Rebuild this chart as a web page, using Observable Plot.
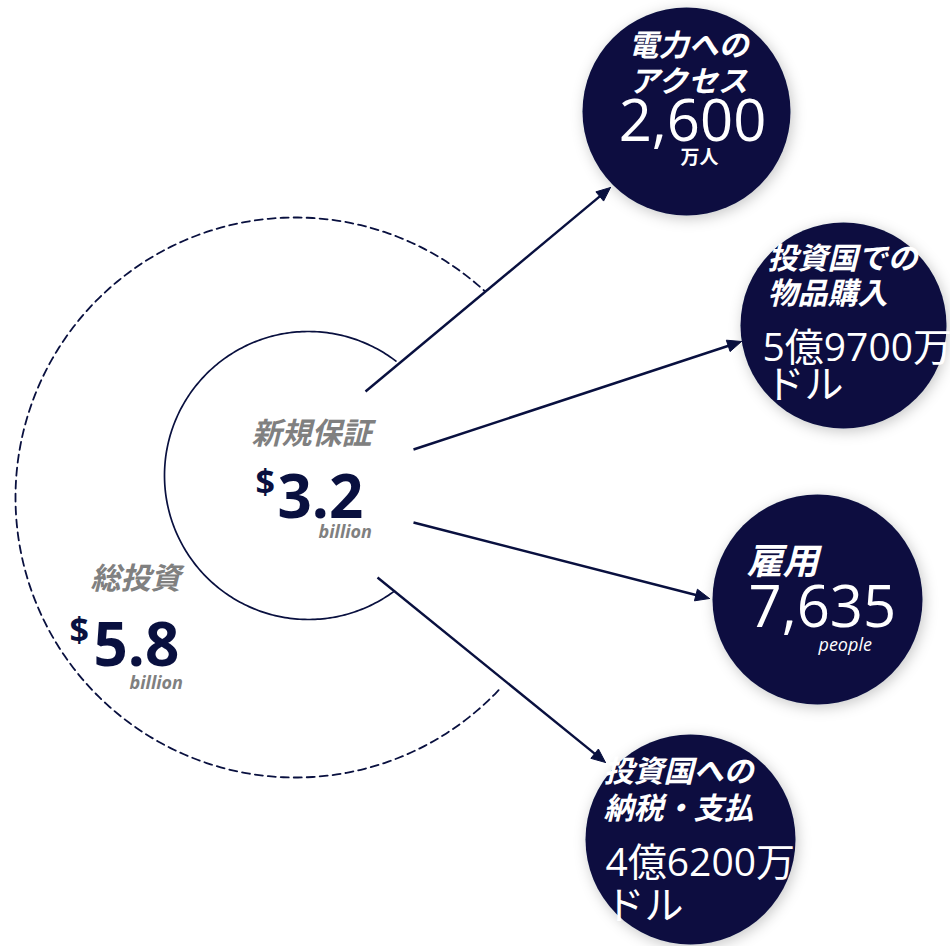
<!DOCTYPE html>
<html>
<head>
<meta charset="utf-8">
<script src="https://cdn.jsdelivr.net/npm/d3@7"></script>
<script src="https://cdn.jsdelivr.net/npm/@observablehq/plot@0.6"></script>
<style>
  html, body { margin: 0; padding: 0; background: #ffffff; }
  #chart svg { display: block; }
</style>
</head>
<body>
<div id="chart"></div>
<script>
// ---------- data ----------
const centerLabels = ["新規保証", "総投資"];
const centerValues = ["3.2", "5.8"];
const centerCurrency = ["$", "$"];
const centerUnits = ["billion", "billion"];

const outcomeTitles = [["電力への", "アクセス"], ["投資国での", "物品購入"], ["雇用"], ["投資国への", "納税・支払"]];
const outcomeValues = ["2,600", "5億9700万", "7,635", "4億6200万"];
const outcomeUnits = ["万人", "ドル", "people", "ドル"];

// ---------- layout (pixels) ----------
const W = 950, H = 946;
const NAVY = "#09103f", GRAY = "#808080";
const JP = "'Noto Sans CJK JP', 'Noto Sans', sans-serif";
const NUM = "'Open Sans', 'Noto Sans CJK JP', sans-serif";

const innerRing = {cx: 308, cy: 475, r: 144, a0: 53.4, a1: 308.2};
const outerRing = {cx: 295, cy: 497, r: 280, a0: 43.5, a1: 312.8};

const bubbleX = [686, 843, 817, 690];
const bubbleY = [111, 325, 599, 839];
const bubbleR = [104, 103, 105, 105];

const arrowFrom = [[365, 391], [413, 449], [413, 522], [377, 577]];
const arrowTo = [[610, 187], [741, 341], [709, 598], [605, 762]];

// per-bubble text layout
const titleLayout = [
  {x: 688, y: [55, 91], anchor: "middle", size: 30},
  {x: 767, y: [268, 303], anchor: "start", size: 30},
  {x: 746, y: [573], anchor: "start", size: 36},
  {x: 603, y: [781, 818], anchor: "start", size: 30}
];
const valueLayout = [
  {x: 692, y: 140, anchor: "middle", size: 58},
  {x: 762, y: 360, anchor: "start", size: 39},
  {x: 748, y: 626, anchor: "start", size: 58},
  {x: 605, y: 875, anchor: "start", size: 39}
];
const unitLayout = [
  {x: 699, y: 163, anchor: "middle", size: 19, weight: 700, style: "normal"},
  {x: 765, y: 397, anchor: "start", size: 39, weight: 400, style: "normal"},
  {x: 818, y: 650, anchor: "start", size: 18, weight: 400, style: "italic"},
  {x: 605, y: 918, anchor: "start", size: 39, weight: 400, style: "normal"}
];
const centerLayout = [
  {label: [251, 443], cur: [255, 493], value: [277, 517], unit: [318, 537]},
  {label: [90, 588], cur: [69, 641], value: [93, 665], unit: [129, 688]}
];

// ---------- derived geometry ----------
function arcPoints(c) {
  return d3.range(c.a0, c.a1 + 0.001, 1).map(a => {
    const t = a * Math.PI / 180;
    return {x: c.cx + c.r * Math.cos(t), y: c.cy + c.r * Math.sin(t)};
  });
}

const bubbles = bubbleX.map((x, i) => ({x, y: bubbleY[i], r: bubbleR[i]}));

const headLen = 14, headHalf = 6;
const links = [], heads = [];
arrowFrom.forEach((f, i) => {
  const t = arrowTo[i];
  const dx = t[0] - f[0], dy = t[1] - f[1];
  const L = Math.hypot(dx, dy), ux = dx / L, uy = dy / L;
  const bx = t[0] - ux * headLen, by = t[1] - uy * headLen;
  links.push({x1: f[0], y1: f[1], x2: bx + ux * 2, y2: by + uy * 2});
  heads.push({id: i, x: t[0], y: t[1]});
  heads.push({id: i, x: bx - uy * headHalf, y: by + ux * headHalf});
  heads.push({id: i, x: bx + uy * headHalf, y: by - ux * headHalf});
  heads.push({id: i, x: t[0], y: t[1]});
});

const titleRows = [];
outcomeTitles.forEach((lines, i) => lines.forEach((s, j) =>
  titleRows.push({text: s, x: titleLayout[i].x, y: titleLayout[i].y[j], size: titleLayout[i].size, anchor: titleLayout[i].anchor})));
const valueRows = outcomeValues.map((s, i) => ({text: s, ...valueLayout[i]}));
const unitRows = outcomeUnits.map((s, i) => ({text: s, ...unitLayout[i]}));

const centerLabelRows = centerLabels.map((s, i) => ({text: s, x: centerLayout[i].label[0], y: centerLayout[i].label[1]}));
const centerCurRows = centerCurrency.map((s, i) => ({text: s, x: centerLayout[i].cur[0], y: centerLayout[i].cur[1]}));
const centerValueRows = centerValues.map((s, i) => ({text: s, x: centerLayout[i].value[0], y: centerLayout[i].value[1]}));
const centerUnitRows = centerUnits.map((s, i) => ({text: s, x: centerLayout[i].unit[0], y: centerLayout[i].unit[1]}));

function textGroup(rows, opts) {
  const groups = d3.groups(rows, r => [r.anchor || opts.anchor, r.size || opts.size, r.weight || opts.weight, r.style || opts.style].join("|"));
  return groups.map(([key, rs]) => {
    const [anchor, size, weight, style] = key.split("|");
    return Plot.text(rs, {
      x: "x", y: "y", text: "text",
      textAnchor: anchor, lineAnchor: "bottom",
      fontSize: +size, fontWeight: weight, fontStyle: style,
      fontFamily: opts.family, fill: opts.fill
    });
  });
}

const svg = Plot.plot({
  width: W, height: H,
  margin: 0,
  style: {background: "#ffffff", overflow: "hidden"},
  x: {domain: [0, W], range: [0, W], axis: null},
  y: {domain: [0, H], range: [0, H], axis: null},
  r: {type: "identity"},
  marks: [
    Plot.line(arcPoints(outerRing), {x: "x", y: "y", stroke: NAVY, strokeWidth: 1.8, strokeDasharray: "8,5"}),
    Plot.line(arcPoints(innerRing), {x: "x", y: "y", stroke: NAVY, strokeWidth: 1.7}),
    Plot.link(links, {x1: "x1", y1: "y1", x2: "x2", y2: "y2", stroke: NAVY, strokeWidth: 2.4}),
    Plot.line(heads, {x: "x", y: "y", z: "id", fill: NAVY, stroke: NAVY, strokeWidth: 1}),
    Plot.dot(bubbles, {x: "x", y: "y", r: "r", fill: NAVY, stroke: null, ariaLabel: "bubbles"}),
    ...textGroup(titleRows, {family: JP, fill: "white", weight: 700, style: "italic"}),
    ...textGroup(valueRows, {family: NUM, fill: "white", weight: 400, style: "normal"}),
    ...textGroup(unitRows, {family: NUM, fill: "white"}),
    ...textGroup(centerLabelRows, {family: JP, fill: GRAY, weight: 700, style: "italic", anchor: "start", size: 30}),
    ...textGroup(centerCurRows, {family: NUM, fill: NAVY, weight: 700, style: "normal", anchor: "start", size: 34}),
    ...textGroup(centerValueRows, {family: NUM, fill: NAVY, weight: 700, style: "normal", anchor: "start", size: 60}),
    ...textGroup(centerUnitRows, {family: NUM, fill: GRAY, weight: 700, style: "italic", anchor: "start", size: 18})
  ]
});

// soft drop shadow under the dark bubbles
const ns = "http://www.w3.org/2000/svg";
const defs = document.createElementNS(ns, "defs");
defs.innerHTML = `<filter id="bubbleShadow" x="-40%" y="-40%" width="180%" height="180%">
  <feDropShadow dx="2" dy="3" stdDeviation="7" flood-color="#000" flood-opacity="0.22"/></filter>`;
svg.insertBefore(defs, svg.firstChild);
let bubbleGroup = svg.querySelector('g[aria-label="bubbles"]');
if (!bubbleGroup) {
  const dots = svg.querySelectorAll('g[aria-label="dot"]');
  bubbleGroup = dots[0];
}
if (bubbleGroup) bubbleGroup.setAttribute("filter", "url(#bubbleShadow)");

document.getElementById("chart").appendChild(svg);
</script>
</body>
</html>
